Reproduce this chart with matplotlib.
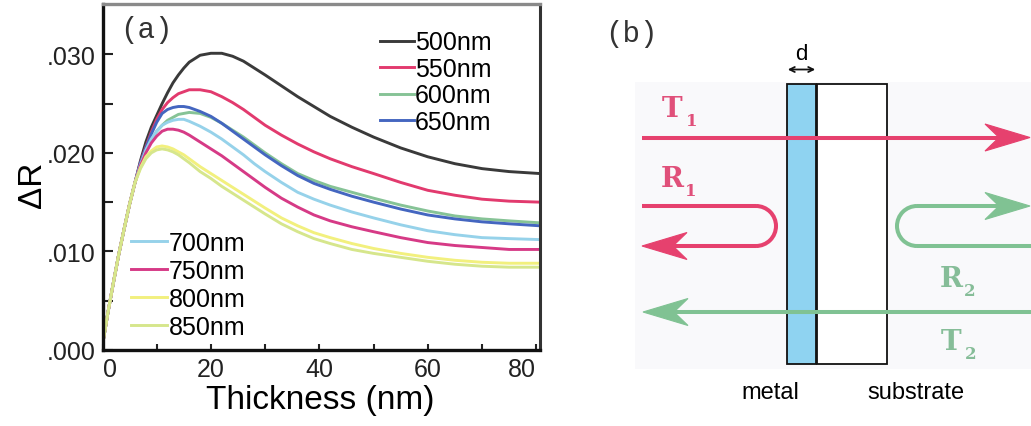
import numpy as np
import matplotlib
matplotlib.use('Agg')
import matplotlib.pyplot as plt
from matplotlib.patches import Rectangle, Polygon, Arc, FancyArrowPatch

# thickness grid (nm) and reflectance change for each wavelength
thickness = [0, 1, 2, 3, 4, 5, 6, 7, 8, 9, 10, 11, 12, 13, 14, 15, 16, 18, 20, 22, 24,
             26, 28, 30, 33, 36, 39, 42, 46, 50, 55, 60, 65, 70, 75, 80.7]
rise = [0.0005, 0.0038, 0.0068, 0.0097, 0.0123, 0.0148, 0.0170]

dR_500 = rise + [0.0192, 0.0211, 0.0226, 0.0238, 0.0250, 0.0261, 0.0271, 0.0279, 0.0286, 0.0292,
                 0.0299, 0.0301, 0.0301, 0.0298, 0.0293, 0.0286, 0.0279, 0.0268, 0.0257, 0.0247,
                 0.0237, 0.0226, 0.0216, 0.0205, 0.0196, 0.0189, 0.0184, 0.0181, 0.0179]
dR_550 = rise + [0.0190, 0.0206, 0.0221, 0.0234, 0.0244, 0.0251, 0.0256, 0.0260, 0.0262, 0.0264,
                 0.0264, 0.0262, 0.0257, 0.0251, 0.0244, 0.0236, 0.0228, 0.0218, 0.0209, 0.0201,
                 0.0194, 0.0186, 0.0179, 0.0170, 0.0162, 0.0157, 0.0153, 0.0151, 0.0150]
dR_600 = rise + [0.0188, 0.0202, 0.0213, 0.0222, 0.0228, 0.0233, 0.0236, 0.0239, 0.0240, 0.0241,
                 0.0240, 0.0236, 0.0230, 0.0223, 0.0216, 0.0208, 0.0200, 0.0189, 0.0179, 0.0172,
                 0.0166, 0.0160, 0.0154, 0.0147, 0.0141, 0.0136, 0.0133, 0.0131, 0.0129]
dR_650 = rise + [0.0190, 0.0205, 0.0219, 0.0231, 0.0240, 0.0244, 0.0246, 0.0247, 0.0247, 0.0246,
                 0.0242, 0.0237, 0.0230, 0.0222, 0.0214, 0.0206, 0.0198, 0.0187, 0.0177, 0.0169,
                 0.0163, 0.0156, 0.0150, 0.0143, 0.0137, 0.0133, 0.0130, 0.0128, 0.0126]
dR_700 = rise + [0.0188, 0.0203, 0.0214, 0.0222, 0.0228, 0.0231, 0.0233, 0.0234, 0.0234, 0.0232,
                 0.0227, 0.0221, 0.0214, 0.0206, 0.0198, 0.0189, 0.0181, 0.0170, 0.0160, 0.0153,
                 0.0147, 0.0140, 0.0134, 0.0127, 0.0121, 0.0117, 0.0114, 0.0113, 0.0112]
dR_750 = rise + [0.0187, 0.0200, 0.0210, 0.0217, 0.0222, 0.0224, 0.0224, 0.0223, 0.0221, 0.0218,
                 0.0211, 0.0204, 0.0197, 0.0189, 0.0181, 0.0173, 0.0165, 0.0154, 0.0145, 0.0137,
                 0.0131, 0.0125, 0.0120, 0.0114, 0.0109, 0.0106, 0.0104, 0.0102, 0.0102]
dR_800 = rise + [0.0185, 0.0196, 0.0202, 0.0206, 0.0207, 0.0206, 0.0204, 0.0201, 0.0198, 0.0194,
                 0.0186, 0.0179, 0.0172, 0.0165, 0.0158, 0.0151, 0.0144, 0.0134, 0.0126, 0.0119,
                 0.0114, 0.0108, 0.0103, 0.0098, 0.0094, 0.0091, 0.0089, 0.0088, 0.0088]
dR_850 = rise + [0.0184, 0.0194, 0.0200, 0.0203, 0.0204, 0.0203, 0.0201, 0.0198, 0.0194, 0.0190,
                 0.0181, 0.0174, 0.0166, 0.0159, 0.0152, 0.0145, 0.0138, 0.0128, 0.0120, 0.0113,
                 0.0108, 0.0102, 0.0098, 0.0094, 0.0090, 0.0087, 0.0085, 0.0084, 0.0084]

upper_labels = ['500nm', '550nm', '600nm', '650nm']
lower_labels = ['700nm', '750nm', '800nm', '850nm']
upper_series = [dR_500, dR_550, dR_600, dR_650]
lower_series = [dR_700, dR_750, dR_800, dR_850]
upper_colors = ['#3a3a3a', '#e23a6e', '#86c396', '#4466c0']
lower_colors = ['#96d2ea', '#d63a86', '#f2f07e', '#d6e68c']

x_ticks = [0, 20, 40, 60, 80]
y_ticks = [0.000, 0.010, 0.020, 0.030]
y_ticklabels = ['.000', '.010', '.020', '.030']

W, H = 1031, 427
fig = plt.figure(figsize=(W / 100, H / 100), dpi=100)

# ---- (a) reflectance change vs. thickness ----
ax = fig.add_axes([102.5 / W, (H - 351) / H, 437.5 / W, 346 / H])
lines_up = []
for vals, c, lab in zip(upper_series, upper_colors, upper_labels):
    ln, = ax.plot(thickness, vals, color=c, lw=2.1, label=lab)
    lines_up.append(ln)
lines_lo = []
for vals, c, lab in zip(lower_series, lower_colors, lower_labels):
    ln, = ax.plot(thickness, vals, color=c, lw=2.1, label=lab)
    lines_lo.append(ln)

ax.set_xlim(0, 80.7)
ax.set_ylim(0, 0.0351)
ax.set_xticks(x_ticks)
ax.set_xticks([10, 30, 50, 70], minor=True)
ax.set_yticks(y_ticks)
ax.set_yticklabels(y_ticklabels)
ax.set_yticks([0.005, 0.015, 0.025], minor=True)
ax.tick_params(which='both', direction='in', width=1.5, colors='#222222')
ax.tick_params(axis='y', which='both', length=7, pad=5, labelsize=18)
ax.tick_params(axis='x', which='both', length=4, pad=5, labelsize=18)
for lab in ax.get_xticklabels() + ax.get_yticklabels():
    lab.set_fontfamily('Liberation Sans')
xl = ax.get_xticklabels()
xl[0].set_ha('left')
xl[-1].set_ha('right')

for side in ['left', 'bottom']:
    ax.spines[side].set_linewidth(2.4)
    ax.spines[side].set_color('#111111')
ax.spines['right'].set_linewidth(2.2)
ax.spines['right'].set_color('#333333')
ax.spines['top'].set_linewidth(2.4)
ax.spines['top'].set_color('#8a8a8a')

ax.set_xlabel('Thickness (nm)', fontsize=24, family='Liberation Sans')
ax.xaxis.set_label_coords(0.497, -0.097)
ax.text(-0.16, 0.48, 'ΔR', transform=ax.transAxes, rotation=90, fontsize=24,
        family='Liberation Sans', ha='center', va='center')
ax.text(0.04, 0.904, '(a)', transform=ax.transAxes, fontsize=21,
        family='Liberation Mono', color='#333333', ha='left', va='baseline')

leg_kw = dict(frameon=False, borderpad=0, borderaxespad=0, handletextpad=0.05,
              loc='upper left', prop={'family': 'Liberation Sans', 'size': 18})
leg1 = ax.legend(lines_up, upper_labels, bbox_to_anchor=(0.634, 0.924),
                 handlelength=1.35, labelspacing=0.1, **leg_kw)
ax.add_artist(leg1)
ax.legend(lines_lo, lower_labels, bbox_to_anchor=(0.065, 0.345),
          handlelength=1.45, labelspacing=0.16, **leg_kw)

# ---- (b) sketch of the metal film on a substrate ----
bx = fig.add_axes([570 / W, 0, (W - 570) / W, 1])
bx.set_xlim(570, W)
bx.set_ylim(H, 0)
bx.axis('off')

red = '#e6416e'
green = '#80c293'
red_txt = '#e0507a'
green_txt = '#86bd98'
lw_ray = 2.9

slab_top, slab_bot = 85, 365
metal_x = (787, 816)
sub_x = (817, 887)
left_x, right_x = 642, 1031
t1_y, r_top, r_bot, t2_y = 138.5, 207, 247, 313

bx.add_patch(Rectangle((635, 83), W - 635, 287, facecolor='#f9f9fb', edgecolor='none', zorder=0))
bx.add_patch(Rectangle((metal_x[0], slab_top), metal_x[1] - metal_x[0], slab_bot - slab_top,
                       facecolor='#8fd3f1', edgecolor='#111111', lw=1.3, zorder=1))
bx.add_patch(Rectangle((sub_x[0], slab_top), sub_x[1] - sub_x[0], slab_bot - slab_top,
                       facecolor='white', edgecolor='#111111', lw=1.3, zorder=1))


def arrow_head(tip, y, direction, color, length=45, half=13.5, notch=14):
    back = tip - direction * length
    mid = back + direction * notch
    pts = [(tip, y), (back, y - half), (mid, y), (back, y + half)]
    bx.add_patch(Polygon(pts, closed=True, facecolor=color, edgecolor=color,
                         lw=0.8, zorder=4))
    return mid


# T1: straight through to the right
end = arrow_head(right_x - 1, t1_y, 1, red)
bx.plot([left_x, end], [t1_y, t1_y], color=red, lw=lw_ray, zorder=3, solid_capstyle='butt')

# R1: comes in from the left and turns back
rad = (r_bot - r_top) / 2
turn = 776 - rad
end = arrow_head(left_x, r_bot, -1, red)
bx.plot([left_x, turn], [r_top, r_top], color=red, lw=lw_ray, zorder=3, solid_capstyle='butt')
bx.plot([turn, end], [r_bot, r_bot], color=red, lw=lw_ray, zorder=3, solid_capstyle='butt')
bx.add_patch(Arc((turn, r_top + rad), 2 * rad, 2 * rad, theta1=-90, theta2=90,
                 color=red, lw=lw_ray, zorder=3))

# R2: comes in from the right and turns back
turn2 = 897 + rad
end = arrow_head(right_x - 1, r_top, 1, green)
bx.plot([turn2, end], [r_top, r_top], color=green, lw=lw_ray, zorder=3, solid_capstyle='butt')
bx.plot([turn2, right_x], [r_bot, r_bot], color=green, lw=lw_ray, zorder=3, solid_capstyle='butt')
bx.add_patch(Arc((turn2, r_top + rad), 2 * rad, 2 * rad, theta1=90, theta2=270,
                 color=green, lw=lw_ray, zorder=3))

# T2: straight through to the left
end = arrow_head(left_x + 1, t2_y, -1, green)
bx.plot([end, right_x], [t2_y, t2_y], color=green, lw=lw_ray, zorder=3, solid_capstyle='butt')

# ray labels with subscripts
serif = dict(family='DejaVu Serif', fontweight='bold', ha='left', va='baseline')
for (x, y, big, sub, col) in [(662, 117, 'T', '1', red_txt), (661, 187, 'R', '1', red_txt),
                              (940, 287, 'R', '2', green_txt), (941, 350, 'T', '2', green_txt)]:
    bx.text(x, y, big, fontsize=20, color=col, **serif)
    bx.text(x + 24, y + 9, sub, fontsize=12, color=col, **serif)

# thickness marker
bx.add_patch(FancyArrowPatch((785, 70.5), (818, 70.5), arrowstyle='<->', mutation_scale=9,
                             color='#111111', lw=1.3, zorder=3))
bx.text(801.5, 60, 'd', fontsize=16, family='Liberation Sans', ha='center', va='baseline')

bx.text(605, 42, '(b)', fontsize=21, family='Liberation Mono', color='#333333',
        ha='left', va='baseline')
bx.text(770, 399, 'metal', fontsize=17, family='Liberation Sans', ha='center', va='baseline')
bx.text(916, 399, 'substrate', fontsize=17, family='Liberation Sans', ha='center', va='baseline')

fig.savefig('out.png', dpi=100)
